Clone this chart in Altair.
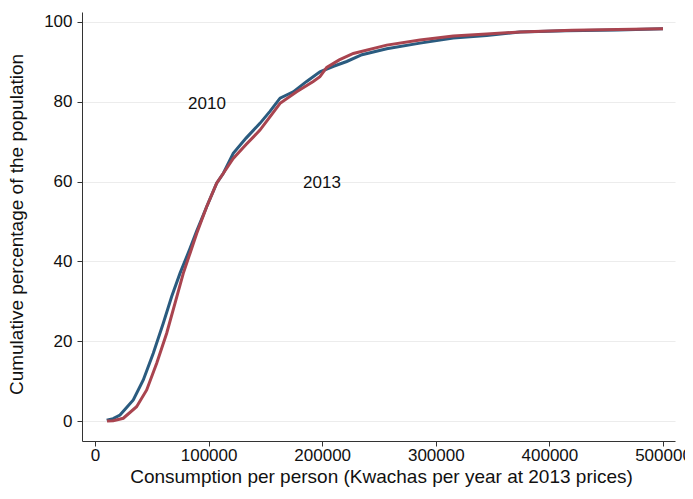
import altair as alt
import pandas as pd

# 2010 cumulative distribution (consumption per person, cumulative %)
x2010 = [10300, 16000, 22000, 33700, 42500, 51300, 60100, 67500, 74800, 83600,
         89500, 98300, 107100, 113000, 121700, 133000, 145200, 154000, 162900,
         174500, 186300, 198000, 210000, 221600, 235000, 256800, 286100, 315400,
         344800, 374100, 415000, 460000, 500000]
y2010 = [0.2, 0.6, 1.5, 5.3, 10.3, 17.0, 24.5, 31.2, 37.0, 43.2,
         47.6, 53.7, 59.6, 62.1, 67.1, 70.9, 74.6, 77.6, 80.9,
         82.5, 85.1, 87.5, 88.9, 90.1, 91.8, 93.3, 94.7, 96.0,
         96.6, 97.5, 97.8, 98.0, 98.3]

# 2013 cumulative distribution
x2013 = [10600, 16000, 24900, 36600, 45500, 54300, 63100, 70400, 77700, 83600,
         89500, 98300, 107100, 113000, 121700, 133000, 145200, 154000, 162900,
         177500, 192100, 198000, 204000, 215000, 227400, 256800, 286100, 315400,
         344800, 374100, 420000, 460000, 500000]
y2013 = [0.0, 0.1, 0.7, 3.6, 7.8, 14.5, 22.0, 29.5, 37.0, 42.0,
         47.0, 53.7, 59.6, 62.1, 65.8, 69.3, 72.9, 76.2, 79.6,
         82.5, 85.1, 86.3, 88.6, 90.5, 92.1, 94.2, 95.5, 96.5,
         97.0, 97.5, 97.9, 98.1, 98.3]

label_text = ["2010", "2013"]
label_x = [98600, 199800]
label_y = [79.4, 59.6]

rows = []
for s, xs, ys in (("2010", x2010, y2010), ("2013", x2013, y2013)):
    for i, (a, b) in enumerate(zip(xs, ys)):
        rows.append({"series": s, "order": i, "cons": a, "pct": b})
df = pd.DataFrame(rows)
labels = pd.DataFrame({"t": label_text, "cons": label_x, "pct": label_y})

FONT = "Liberation Sans"

xscale = alt.Scale(domain=[-11444, 510563], nice=False, zero=False)
yscale = alt.Scale(domain=[-5, 102.5], nice=False, zero=False)

xaxis = alt.Axis(values=[0, 100000, 200000, 300000, 400000, 500000], format="d",
                 grid=False, tickSize=5, labelFontSize=17, labelColor="#111",
                 labelPadding=1, labelFont=FONT, domainColor="#333", tickColor="#333",
                 title="Consumption per person (Kwachas per year at 2013 prices)",
                 titleFont=FONT, titleFontSize=19, titleFontWeight="normal",
                 titleColor="#111", titleX=299, titleY=41, titleBaseline="alphabetic",
                 titleAnchor="middle", titleAlign="center", labelFlush=False)
yaxis = alt.Axis(values=[0, 20, 40, 60, 80, 100], grid=True, gridColor="#ececec",
                 gridWidth=1.2, tickSize=5, labelFontSize=17, labelColor="#111",
                 labelPadding=5, labelFont=FONT, labelAngle=0, domainColor="#333",
                 tickColor="#333",
                 title="Cumulative percentage of the population", titleFont=FONT,
                 titleFontSize=19, titleFontWeight="normal", titleColor="#111",
                 titleX=-60, titleY=212, titleAngle=-90, titleAlign="center",
                 titleBaseline="alphabetic")

lines = alt.Chart(df).mark_line(strokeWidth=3, interpolate="linear").encode(
    x=alt.X("cons:Q", scale=xscale, axis=xaxis),
    y=alt.Y("pct:Q", scale=yscale, axis=yaxis),
    color=alt.Color("series:N", scale=alt.Scale(domain=["2010", "2013"],
                                                range=["#2a5b7f", "#a9444f"]),
                    legend=None),
    order="order:Q",
)

text = alt.Chart(labels).mark_text(fontSize=17, font=FONT, color="#111").encode(
    x=alt.X("cons:Q", scale=xscale),
    y=alt.Y("pct:Q", scale=yscale),
    text="t:N",
)

chart = (lines + text).properties(
    width=593, height=429,
    autosize=alt.AutoSizeParams(type="none"),
    padding={"left": 74, "top": 4, "right": 10, "bottom": 50},
    background="white",
).configure_view(stroke=None)

chart.save("out.html", embed_options={"renderer": "svg", "actions": False})
